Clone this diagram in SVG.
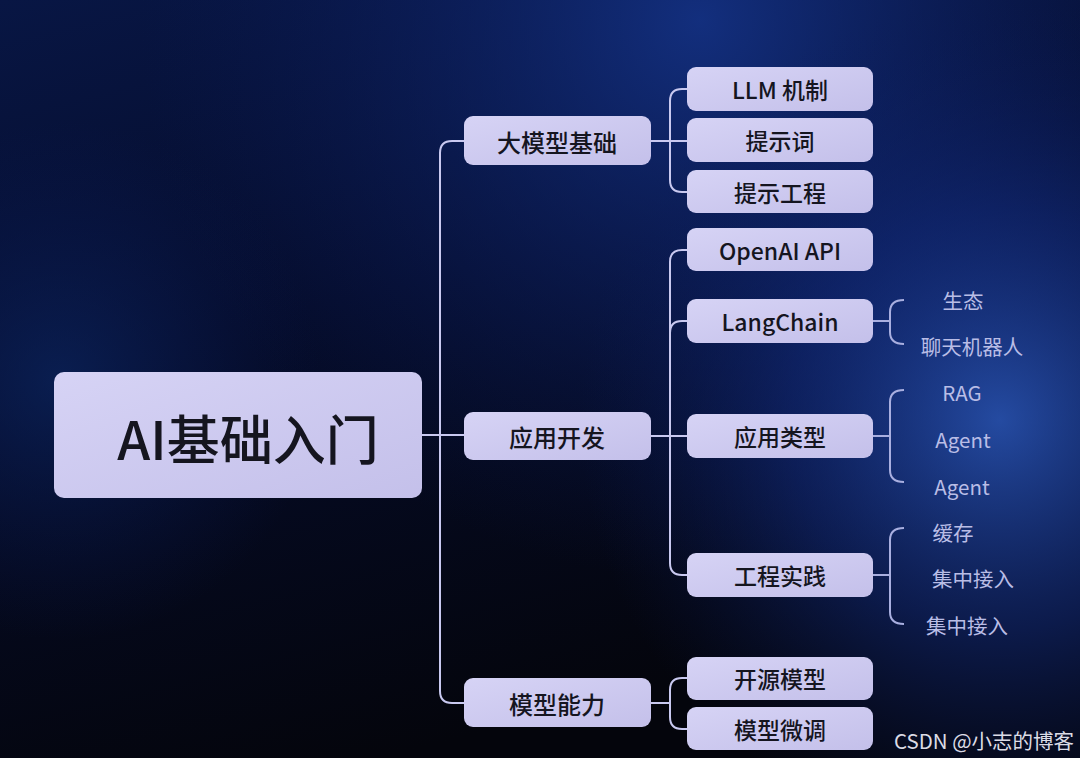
<svg xmlns="http://www.w3.org/2000/svg" width="1080" height="758" viewBox="0 0 1080 758">
<defs>
<linearGradient id="bg" x1="0" y1="0" x2="0.35" y2="1">
<stop offset="0" stop-color="#081644"/>
<stop offset="0.45" stop-color="#050c2a"/>
<stop offset="1" stop-color="#04050c"/>
</linearGradient>
<radialGradient id="glowR" cx="1000" cy="420" r="420" gradientUnits="userSpaceOnUse">
<stop offset="0" stop-color="#2a56b8" stop-opacity="0.85"/>
<stop offset="0.5" stop-color="#14308a" stop-opacity="0.5"/>
<stop offset="1" stop-color="#0a1a5a" stop-opacity="0"/>
</radialGradient>
<radialGradient id="glowT" cx="700" cy="20" r="560" gradientUnits="userSpaceOnUse">
<stop offset="0" stop-color="#15348a" stop-opacity="0.85"/>
<stop offset="1" stop-color="#0a1a5a" stop-opacity="0"/>
</radialGradient>
<radialGradient id="glowL" cx="60" cy="380" r="260" gradientUnits="userSpaceOnUse">
<stop offset="0" stop-color="#0d2a6a" stop-opacity="0.6"/>
<stop offset="1" stop-color="#0a1a5a" stop-opacity="0"/>
</radialGradient>
<linearGradient id="box" x1="0" y1="0" x2="1" y2="1">
<stop offset="0" stop-color="#d6d3f5"/>
<stop offset="1" stop-color="#c4c0ea"/>
</linearGradient>
</defs>
<style>
.box{fill:url(#box);}
.t{font-family:"Noto Sans CJK SC","Noto Sans",sans-serif;fill:#15151f;text-anchor:middle;dominant-baseline:central;font-weight:500;}
.t1{font-size:24px;}
.t2{font-size:23px;}
.leaf{font-family:"Noto Sans CJK SC","Noto Sans",sans-serif;fill:#b9bde6;font-size:20.5px;text-anchor:middle;dominant-baseline:central;}
.ln{fill:none;stroke:#c9c9f0;stroke-width:2;}
.br{fill:none;stroke:#a9afe0;stroke-width:2;}
</style>
<rect width="1080" height="758" fill="url(#bg)"/>
<rect width="1080" height="758" fill="url(#glowT)"/>
<rect width="1080" height="758" fill="url(#glowR)"/>
<rect width="1080" height="758" fill="url(#glowL)"/>

<g id="connectors">
<path class="ln" d="M422 435 H464"/>
<path class="ln" d="M464 141 H452 Q440 141 440 153 V691 Q440 703 452 703 H464"/>
<path class="ln" d="M651 141 H687"/>
<path class="ln" d="M687 89 H682 Q670 89 670 101 V180 Q670 192 682 192 H687"/>
<path class="ln" d="M651 436 H687"/>
<path class="ln" d="M687 250 H682 Q670 250 670 262 V563 Q670 575 682 575 H687"/>
<path class="ln" d="M687 321 H682 Q670 321 670 333"/>
<path class="ln" d="M651 703 H670"/>
<path class="ln" d="M687 678 H682 Q670 678 670 690 V717 Q670 729 682 729 H687"/>
<path class="br" d="M873 321 H890"/>
<path class="br" d="M904 300 Q890 300 890 312 V332 Q890 344 904 344"/>
<path class="br" d="M873 436 H890"/>
<path class="br" d="M904 390 Q890 390 890 402 V470 Q890 482 904 482"/>
<path class="br" d="M873 575 H890"/>
<path class="br" d="M904 528 Q890 528 890 540 V612 Q890 624 904 624"/>
</g>

<g id="root">
<rect class="box" x="54" y="372" width="368" height="126" rx="10"/>
<text class="t" x="248" y="437" style="font-size:53px;">AI基础入门</text>
</g>

<g id="n-dmx">
<rect class="box" x="464" y="116" width="187" height="49" rx="9"/>
<text class="t t1" x="557" y="141">大模型基础</text>
</g>
<g id="n-yykf">
<rect class="box" x="464" y="412" width="187" height="48" rx="9"/>
<text class="t t1" x="557" y="436">应用开发</text>
</g>
<g id="n-mxnl">
<rect class="box" x="464" y="678" width="187" height="49" rx="9"/>
<text class="t t1" x="557" y="703">模型能力</text>
</g>

<g id="n-llm">
<rect class="box" x="687" y="67" width="186" height="44" rx="9"/>
<text class="t t2" x="780" y="89">LLM 机制</text>
</g>
<g id="n-tsc">
<rect class="box" x="687" y="118" width="186" height="44" rx="9"/>
<text class="t t2" x="780" y="140">提示词</text>
</g>
<g id="n-tsgc">
<rect class="box" x="687" y="170" width="186" height="43" rx="9"/>
<text class="t t2" x="780" y="192">提示工程</text>
</g>
<g id="n-openai">
<rect class="box" x="687" y="228" width="186" height="43" rx="9"/>
<text class="t t2" x="780" y="250">OpenAI API</text>
</g>
<g id="n-langchain">
<rect class="box" x="687" y="299" width="186" height="44" rx="9"/>
<text class="t t2" x="780" y="321">LangChain</text>
</g>
<g id="n-yylx">
<rect class="box" x="687" y="414" width="186" height="44" rx="9"/>
<text class="t t2" x="780" y="436">应用类型</text>
</g>
<g id="n-gcsj">
<rect class="box" x="687" y="553" width="186" height="44" rx="9"/>
<text class="t t2" x="780" y="575">工程实践</text>
</g>
<g id="n-kymx">
<rect class="box" x="687" y="657" width="186" height="43" rx="9"/>
<text class="t t2" x="780" y="678">开源模型</text>
</g>
<g id="n-mxwt">
<rect class="box" x="687" y="707" width="186" height="43" rx="9"/>
<text class="t t2" x="780" y="729">模型微调</text>
</g>

<g id="leaves">
<text class="leaf" x="963" y="300">生态</text>
<text class="leaf" x="972" y="346">聊天机器人</text>
<text class="leaf" x="962" y="392">RAG</text>
<text class="leaf" x="963" y="439">Agent</text>
<text class="leaf" x="962" y="486">Agent</text>
<text class="leaf" x="953" y="532">缓存</text>
<text class="leaf" x="973" y="578">集中接入</text>
<text class="leaf" x="967" y="625">集中接入</text>
</g>

<text x="984" y="740" style="font-family:'Noto Sans CJK SC','Noto Sans',sans-serif;font-size:20.5px;fill:#dcdce6;text-anchor:middle;dominant-baseline:central;">CSDN @小志的博客</text>
</svg>
